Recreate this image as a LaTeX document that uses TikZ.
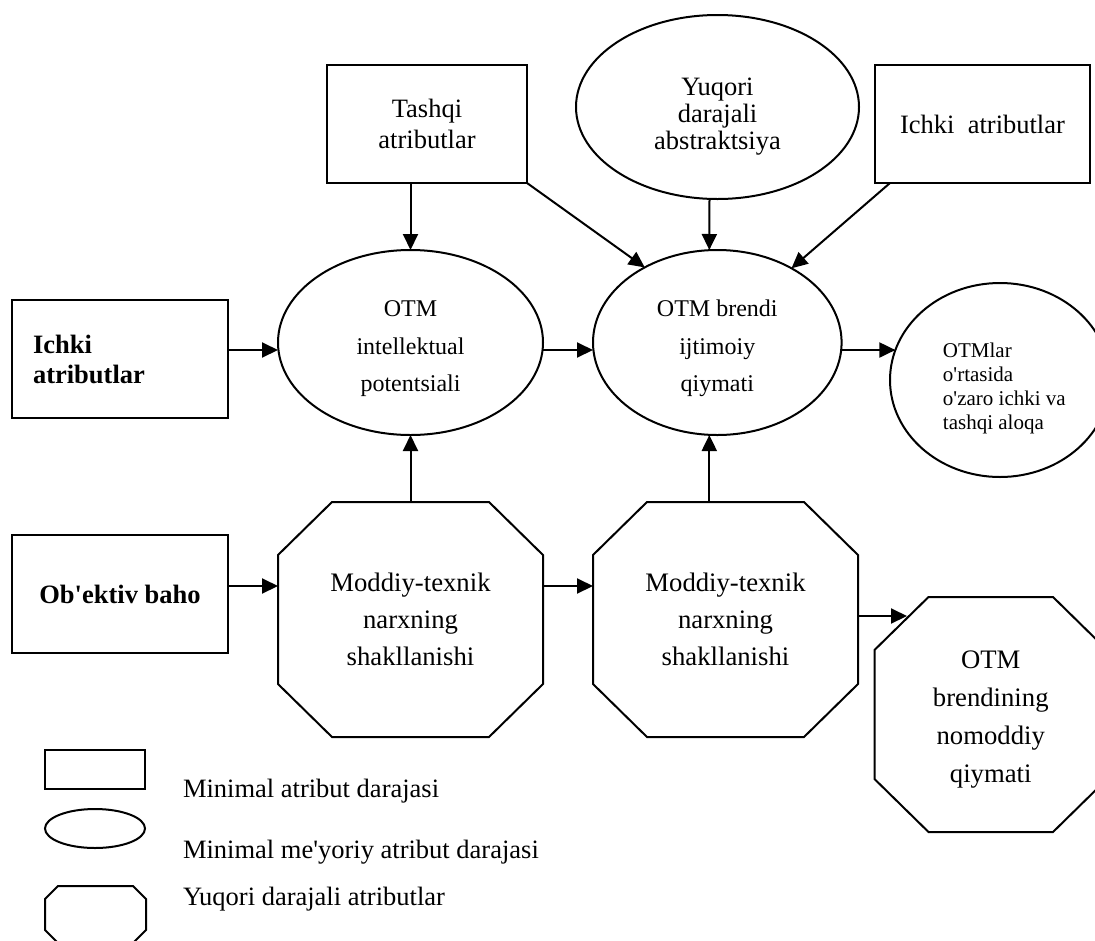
\documentclass[tikz,border=0pt]{standalone}
\usepackage{fontspec}
\setmainfont{Liberation Serif}
\usetikzlibrary{arrows.meta,shapes.geometric,calc}
\newcommand\apq{\textquotesingle}
\newcommand\octagonpath[3]{%
  \draw[thickline] ($(#1.north west)+(#2,0)$) -- ($(#1.north east)+(-#2,0)$)
    -- ($(#1.north east)+(0,#3)$) -- ($(#1.south east)+(0,-#3)$)
    -- ($(#1.south east)+(-#2,0)$) -- ($(#1.south west)+(#2,0)$)
    -- ($(#1.south west)+(0,-#3)$) -- ($(#1.north west)+(0,#3)$) -- cycle;}
\tikzset{
  every node/.style={inner sep=0pt, outer sep=0pt},
  thickline/.style={line width=2pt, line join=miter},
  boxnode/.style={draw, line width=2pt, rectangle, align=center},
  ellnode/.style={draw, line width=2pt, ellipse, align=center},
  octnode/.style={rectangle, align=center},
  arr/.style={line width=2pt, -{Triangle[length=16pt,width=15pt]}},
  txtbig/.style={font=\fontsize{26.5}{31}\selectfont},
  txtyuq/.style={font=\fontsize{26.5}{27}\selectfont},
  txtell/.style={font=\fontsize{24}{37.5}\selectfont},
  txtoct/.style={font=\fontsize{26.7}{37}\selectfont},
  txtoct3/.style={font=\fontsize{26.7}{37.7}\selectfont},
  txtsmall/.style={font=\fontsize{21}{24.3}\selectfont},
  txtbold/.style={font=\fontsize{26.5}{30}\selectfont\bfseries},
  legtext/.style={font=\fontsize{26.5}{31}\selectfont, anchor=base west},
}
\begin{document}
\begin{tikzpicture}[x=1pt, y=-1pt]
\useasboundingbox (0,0) rectangle (1095,940);

% top row
\node[boxnode, txtbig, minimum width=200pt, minimum height=118pt] (tash) at (427,124) {Tashqi\\atributlar};
\node[ellnode, txtyuq, minimum width=283pt, minimum height=184pt] (yuq) at (717.5,107) {\rule{0pt}{37pt}Yuqori\\darajali\\abstraktsiya};
\node[boxnode, txtbig, minimum width=215pt, minimum height=118pt] (ich) at (982.5,124) {Ichki\ \ atributlar};

% middle row
\node[boxnode, txtbold, minimum width=216pt, minimum height=118pt, text width=174pt, align=left, inner xsep=21pt] (lich) at (120,359) {Ichki\\atributlar};
\node[ellnode, txtell, minimum width=265pt, minimum height=185pt] (int) at (410.5,342.5) {\rule{0pt}{29pt}OTM\\intellektual\\potentsiali};
\node[ellnode, txtell, minimum width=248.6pt, minimum height=185pt] (brend) at (717.3,342.5) {\rule{0pt}{29pt}OTM brendi\\ijtimoiy\\qiymati};
\node[ellnode, txtsmall, align=left, minimum width=220pt, minimum height=194pt] (otm) at (1000,380) {\rule{0pt}{31.5pt}\hspace*{8.7pt}OTMlar\\\hspace*{8.7pt}o\apq rtasida\\\hspace*{8.7pt}o\apq zaro ichki va\\\hspace*{8.7pt}tashqi aloqa};

% bottom row
\node[boxnode, txtbold, minimum width=216pt, minimum height=118pt] (ob) at (120,594) {Ob\apq ektiv baho};
\node[octnode, txtoct, minimum width=265pt, minimum height=235pt] (o1) at (410.5,619.5) {Moddiy-texnik\\narxning\\shakllanishi};
\octagonpath{o1}{54}{53}
\node[octnode, txtoct, minimum width=265pt, minimum height=235pt] (o2) at (725.5,619.5) {Moddiy-texnik\\narxning\\shakllanishi};
\octagonpath{o2}{54}{53}
\node[octnode, txtoct3, minimum width=232.5pt, minimum height=235pt] (o3) at (990.75,714.5) {\rule{0pt}{27.7pt}OTM\\brendining\\nomoddiy\\qiymati};
\octagonpath{o3}{54}{53}

% connectors
\draw[arr] (tash.south -| int.north) -- (int.north);
\draw[arr] (tash.south east) -- (brend.134);
\draw[arr] ([xshift=-8pt]yuq.south) -- ([xshift=-8pt]brend.north);
\draw[arr] ([xshift=15pt]ich.south west) -- (brend.45);
\coordinate (a1) at ($(int.west)+(0,7.5)$);
\draw[arr] (lich.east |- a1) -- (a1);
\coordinate (a2) at ($(brend.west)+(0,7.5)$);
\draw[arr] (int.east |- a2) -- (a2);
\draw[arr] (brend.east |- otm.164) -- (otm.164);
\draw[arr] (o1.north) -- (int.south);
\coordinate (bx) at ([xshift=-8pt]brend.south);
\draw[arr] (o2.north -| bx) -- (bx);
\coordinate (r1) at ($(o1.west)+(0,-33.5)$);
\draw[arr] (ob.east |- r1) -- (r1);
\draw[arr] (o1.east |- r1) -- (o2.west |- r1);
\coordinate (r3) at (907,616);
\draw[arr] (o2.east |- r3) -- (r3);

% legend
\node[boxnode, minimum width=100pt, minimum height=39pt] (lrect) at (95,769.5) {};
\node[ellnode, minimum width=100pt, minimum height=39pt] (lell) at (95,828.5) {};
\node[octnode, minimum width=101pt, minimum height=57pt] (loct) at (95.5,914.5) {};
\octagonpath{loct}{13}{13}
\node[legtext] (t1) at (183,797) {Minimal atribut darajasi};
\node[legtext] (t2) at (183,858) {Minimal me\apq yoriy atribut darajasi};
\node[legtext] (t3) at (183,905) {Yuqori darajali atributlar};
\end{tikzpicture}
\end{document}
